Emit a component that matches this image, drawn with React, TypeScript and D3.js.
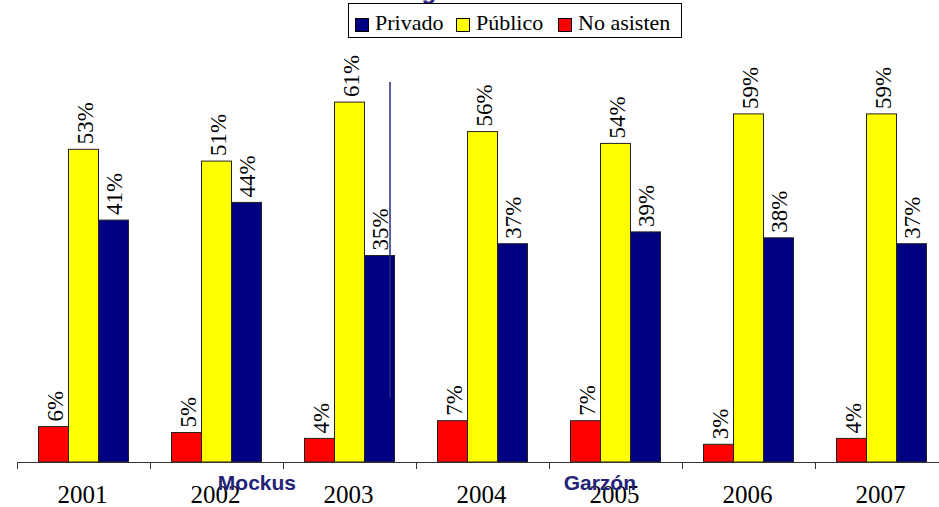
import React from "react";
import * as d3 from "d3";

const years = ["2001", "2002", "2003", "2004", "2005", "2006", "2007"];
const noAsisten = [6, 5, 4, 7, 7, 3, 4];
const publico = [53, 51, 61, 56, 54, 59, 59];
const privado = [41, 44, 35, 37, 39, 38, 37];
const seriesNames = ["No asisten", "Público", "Privado"];
const seriesColors = ["#FF0000", "#FFFF00", "#000080"];
const legendOrder = [2, 1, 0];
const annotations = [
  { text: "Mockus", year: "2002", dx: 0.51 },
  { text: "Garzón", year: "2005", dx: 0.11 },
];
const markerRange = [10.8, 64.4];

const W = 939;
const H = 507;
const SERIF = '"Liberation Serif", "Times New Roman", Times, serif';
const SANS = '"Liberation Sans", Arial, Helvetica, sans-serif';

export default function App() {
  const seriesValues = [noAsisten, publico, privado];
  const x = d3.scaleBand<string>().domain(years).range([17, 948]).paddingInner(0).paddingOuter(0);
  const y = d3.scaleLinear().domain([0, 100]).range([462, -128]);
  const inner = d3
    .scaleBand<number>()
    .domain([0, 1, 2])
    .range([0, x.bandwidth()])
    .paddingInner(0)
    .paddingOuter(0.717);
  const bw = inner.bandwidth();
  const serif = { fontFamily: SERIF };
  const sans = { fontFamily: SANS };

  return (
    <svg width={W} height={H} style={{ position: "absolute", left: 0, top: 0, background: "#fff" }}>
      <text x={268} y={-1} style={sans} fontWeight="bold" fontSize={24} fill="#232378">
        Asistencia según sector
      </text>
      {years.map((yr, i) =>
        seriesValues.map((vals, s) => {
          const bx = (x(yr) as number) + (inner(s) as number);
          const by = y(vals[i]);
          return (
            <g key={yr + s}>
              <rect x={bx} y={by} width={bw} height={y(0) - by} fill={seriesColors[s]} stroke="#222" strokeWidth={1} />
              <text
                transform={`translate(${bx + bw / 2 + 1.5},${by - 5}) rotate(-90)`}
                style={serif}
                fontSize={23}
                dominantBaseline="central"
                textAnchor="start"
                fill="#000"
              >
                {vals[i]}%
              </text>
            </g>
          );
        })
      )}
      <line x1={390} x2={390} y1={y(markerRange[1])} y2={y(markerRange[0])} stroke="#2a2a80" strokeWidth={1.5} />
      <line x1={17} x2={W} y1={462.5} y2={462.5} stroke="#333" strokeWidth={1} />
      {years.map((yr) => (
        <line key={"t" + yr} x1={(x(yr) as number) + 0.5} x2={(x(yr) as number) + 0.5} y1={462} y2={469} stroke="#333" />
      ))}
      {years.map((yr) => (
        <text key={"l" + yr} x={(x(yr) as number) + x.bandwidth() / 2 - 1} y={503} textAnchor="middle" style={serif} fontSize={25} fill="#000">
          {yr}
        </text>
      ))}
      {annotations.map((a) => (
        <text
          key={a.text}
          x={(x(a.year) as number) + x.bandwidth() * a.dx}
          y={490}
          style={sans}
          fontWeight="bold"
          fontSize={21}
          fill="#232378"
        >
          {a.text}
        </text>
      ))}
      <rect x={348.5} y={3.5} width={333} height={34} fill="#fff" stroke="#000" strokeWidth={1} />
      {legendOrder.map((s, k) => {
        const lx = [355, 456, 558][k];
        return (
          <g key={"lg" + s}>
            <rect x={lx + 0.5} y={18.5} width={13} height={13} fill={seriesColors[s]} stroke="#000" strokeWidth={1} />
            <text x={lx + 20} y={30} style={serif} fontSize={22} fill="#000">
              {seriesNames[s]}
            </text>
          </g>
        );
      })}
    </svg>
  );
}
